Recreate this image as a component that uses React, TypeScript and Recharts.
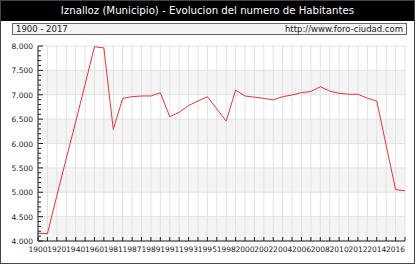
import { CartesianGrid, Line, LineChart, XAxis, YAxis } from "recharts";

const years = [
  "1900", "1910", "1920", "1930", "1940", "1950", "1960", "1970", "1981",
  "1986", "1987", "1988", "1989", "1990", "1991", "1992", "1993", "1994", "1995", "1996",
  "1998", "1999", "2000", "2001", "2002", "2003", "2004", "2005", "2006", "2007",
  "2008", "2009", "2010", "2011", "2012", "2013", "2014", "2015", "2016", "2017",
];

const habitantes = [
  4160, 4150, 4930, 5690, 6440, 7210, 7985, 7960, 6290,
  6925, 6960, 6975, 6975, 7040, 6550, 6640, 6780, 6870, 6960, 6710,
  6460, 7095, 6975, 6950, 6925, 6895, 6960, 6995, 7045, 7065,
  7165, 7075, 7030, 7010, 7010, 6930, 6870, 5960, 5055, 5030,
];

const Y_MIN = 4000;
const Y_MAX = 8000;
const yLabels = [4000, 4500, 5000, 5500, 6000, 6500, 7000, 7500, 8000];

const minorTicks: number[] = [];
for (let v = Y_MIN; v <= Y_MAX; v += 100) minorTicks.push(v);

const data = years.map((year, i) => ({ year, value: habitantes[i] }));

const FONT = "'DejaVu Sans', Verdana, sans-serif";

const fmt = (v: number) => v.toLocaleString("de-DE");

function YTick(props: any) {
  const { x, y, payload } = props;
  const major = payload.value % 500 === 0;
  return (
    <g>
      <line x1={x} y1={y} x2={x + (major ? 5 : 3)} y2={y} stroke="#222" />
      {major && (
        <text x={x - 5} y={y + 3} textAnchor="end" fontSize={7.5} fill="#222" fontFamily={FONT}>
          {fmt(payload.value)}
        </text>
      )}
    </g>
  );
}

function XTick(props: any) {
  const { x, y, payload, index } = props;
  return (
    <g>
      <line x1={x} y1={y} x2={x} y2={y - 4} stroke="#222" />
      {index % 2 === 0 && (
        <text x={x} y={y + 11} textAnchor="middle" fontSize={7.5} fill="#222" fontFamily={FONT}>
          {payload.value}
        </text>
      )}
    </g>
  );
}

// grid lines only on the 500 steps, minor ticks stay on the axis
const gridRows = ({ yAxis, offset }: any) => {
  if (yAxis && typeof yAxis.scale === "function") return yLabels.map((v) => yAxis.scale(v));
  return yLabels.map((v) => offset.top + (offset.height * (Y_MAX - v)) / (Y_MAX - Y_MIN));
};

export default function App() {
  return (
    <div
      style={{
        position: "fixed",
        top: 0,
        left: 0,
        width: 415,
        height: 264,
        boxSizing: "border-box",
        border: "1px solid #444",
        background: "#fff",
        fontFamily: FONT,
      }}
    >
      <div
        style={{
          height: 20,
          background: "#000",
          color: "#fff",
          fontSize: 10.2,
          lineHeight: "20px",
          textAlign: "center",
        }}
      >
        Iznalloz (Municipio) - Evolucion del numero de Habitantes
      </div>
      <div
        style={{
          position: "absolute",
          top: 22,
          left: 11,
          width: 395,
          height: 12,
          boxSizing: "border-box",
          border: "1px solid #666",
          background: "#f4f4f4",
          fontSize: 8.5,
          lineHeight: "10px",
          display: "flex",
          justifyContent: "space-between",
          padding: "0 3px",
          color: "#222",
        }}
      >
        <span>1900 - 2017</span>
        <span>http://www.foro-ciudad.com</span>
      </div>
      <div style={{ position: "absolute", top: -1, left: -1 }}>
        <LineChart width={415} height={264} data={data} margin={{ top: 46, right: 10, bottom: 3, left: 8 }}>
          <CartesianGrid
            stroke="#e2e2e2"
            horizontalFill={["#ffffff", "#f4f4f4"]}
            fillOpacity={1}
            horizontalCoordinatesGenerator={gridRows}
          />
          <XAxis
            dataKey="year"
            interval={0}
            tickSize={0}
            tickMargin={0}
            tickLine={false}
            tick={<XTick />}
            height={20}
            axisLine={{ stroke: "#222" }}
          />
          <YAxis
            domain={[Y_MIN, Y_MAX]}
            ticks={minorTicks}
            interval={0}
            width={30}
            tickSize={0}
            tickMargin={0}
            tickLine={false}
            tick={<YTick />}
            axisLine={{ stroke: "#222" }}
          />
          <Line
            dataKey="value"
            stroke="#e8333a"
            strokeWidth={1}
            dot={false}
            type="linear"
            isAnimationActive={false}
          />
        </LineChart>
      </div>
    </div>
  );
}
